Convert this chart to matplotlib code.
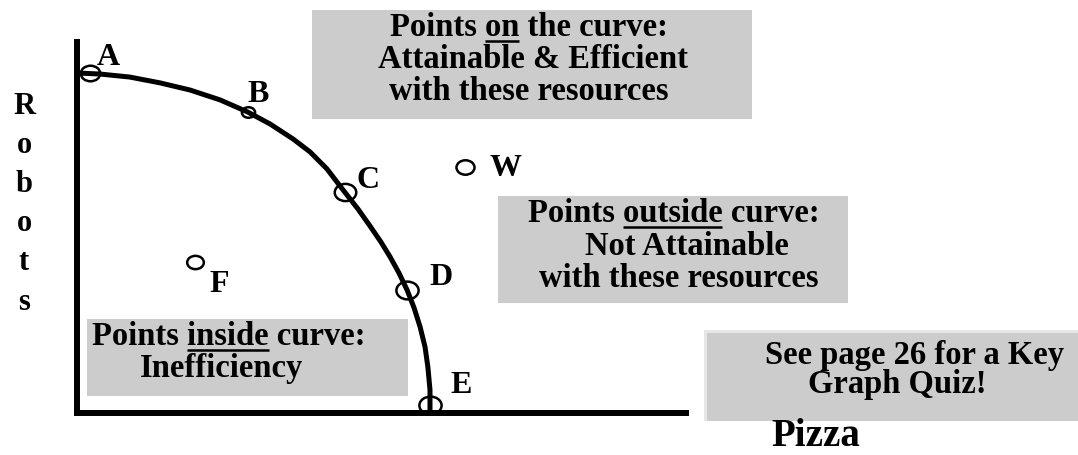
import matplotlib
matplotlib.use("Agg")
import matplotlib.pyplot as plt
from matplotlib.patches import Rectangle
from matplotlib.path import Path
from matplotlib.markers import MarkerStyle
from matplotlib.transforms import Affine2D

plt.rcParams['font.family'] = 'Liberation Serif'
plt.rcParams['font.weight'] = 'bold'

# production possibilities frontier (pizza vs robots)
curve_pizza = [0.0, 0.65, 1.50, 2.35, 3.20, 4.05, 4.84, 5.47, 6.12, 6.60, 7.08, 7.56,
               7.96, 8.30, 8.61, 8.87, 9.12, 9.35, 9.55, 9.72, 9.86, 9.94, 10.0, 10.0]
curve_robots = [10.0, 9.97, 9.88, 9.71, 9.50, 9.21, 8.85, 8.50, 8.06, 7.68, 7.18, 6.53,
                6.00, 5.50, 5.03, 4.59, 4.12, 3.62, 3.09, 2.53, 1.94, 1.35, 0.68, 0.0]

# labelled combinations
point_names = ['A', 'B', 'C', 'D', 'E', 'W', 'F']
point_pizza = [0.37, 4.85, 7.58, 9.34, 10.0, 10.99, 3.34]
point_robots = [10.0, 8.86, 6.5, 3.62, 0.24, 7.24, 4.44]

# marker width (pt) and label offset (px) for each point
marker_w = [14.0, 9.5, 15.5, 16.0, 16.0, 13.0, 12.0]
label_off = [(7, 8), (-1, 10), (12, 4), (23, 5), (20, 12), (25, -9), (15, -30)]

W, H = 1078, 455
fig = plt.figure(figsize=(W / 100, H / 100), dpi=100)

# overlay in pixel units for the note boxes and axis titles
ov = fig.add_axes([0, 0, 1, 1])
ov.set_xlim(0, W)
ov.set_ylim(H, 0)
ov.axis('off')

ax = fig.add_axes([77 / W, (H - 413) / H, (686 - 77) / W, (413 - 42) / H])
ax.patch.set_visible(False)
ax.set_xlim(0, 609 / 35.3)
ax.set_ylim(0, 371 / 34.0)
ax.set_xticks([])
ax.set_yticks([])
for side in ['top', 'right']:
    ax.spines[side].set_visible(False)
for side in ['left', 'bottom']:
    ax.spines[side].set_linewidth(4.3)
    ax.spines[side].set_capstyle('projecting')

ax.plot(curve_pizza, curve_robots, color='black', lw=3.6,
        solid_joinstyle='round', solid_capstyle='butt', clip_on=False)

ellipse = MarkerStyle(Path.unit_circle().transformed(Affine2D().scale(1.0, 0.8)))
for name, px, ry, mw, off in zip(point_names, point_pizza, point_robots, marker_w, label_off):
    ax.plot([px], [ry], marker=ellipse, ms=mw, mfc='none', mec='black', mew=1.8,
            ls='none', clip_on=False, zorder=2)
    ax.annotate(name, (px, ry), xytext=off, textcoords='offset pixels',
                fontsize=23, ha='left', va='baseline')

FS = 23.5
gray = '#cccccc'


def box(x0, y0, x1, y1, color=gray):
    ov.add_patch(Rectangle((x0, y0), x1 - x0, y1 - y0, facecolor=color,
                           edgecolor='none', zorder=1))


def line(x, y, s, ha='center'):
    return ov.text(x, y, s, fontsize=FS, ha=ha, va='baseline', zorder=3)


def underline(t, before, word, y):
    # draw a rule under `word`, which follows `before` inside text t
    r = fig.canvas.get_renderer()
    bb = t.get_window_extent(r)
    tmp = ov.text(0, 0, before + word, fontsize=FS)
    w1 = tmp.get_window_extent(r).width
    tmp.set_text(word)
    w2 = tmp.get_window_extent(r).width
    tmp.remove()
    inv = ov.transData.inverted()
    xa = inv.transform((bb.x0 + w1 - w2, 0))[0]
    xb = inv.transform((bb.x0 + w1, 0))[0]
    ov.plot([xa, xb], [y, y], color='black', lw=1.8, solid_capstyle='butt', zorder=3)


# points on the curve
box(312, 10, 752, 119)
t = line(529, 36, 'Points on the curve:')
underline(t, 'Points ', 'on', 41)
line(532.5, 68, 'Attainable & Efficient')
line(529, 100, 'with these resources')

# points outside the curve
box(498, 196, 848, 303)
t = line(673.5, 222, 'Points outside curve:')
underline(t, 'Points ', 'outside', 227)
line(686.5, 255, 'Not Attainable')
line(678.5, 287, 'with these resources')

# points inside the curve
box(87, 319, 408, 396)
t = line(92, 345, 'Points inside curve:', ha='left')
underline(t, 'Points ', 'inside', 350)
line(140, 377, 'Inefficiency', ha='left')

# quiz note
box(704, 330, 1078, 421, color='#e6e6e6')
box(707, 333, 1078, 421)
line(765, 364, 'See page 26 for a Key', ha='left')
line(808, 393, 'Graph Quiz!', ha='left')

# axis titles
ov.text(816, 446, 'Pizza', fontsize=28, ha='center', va='baseline')
ov.text(24, 92, 'R\no\nb\no\nt\ns', fontsize=22, ha='center', va='top',
        linespacing=1.46)

fig.savefig('out.png', dpi=100)
